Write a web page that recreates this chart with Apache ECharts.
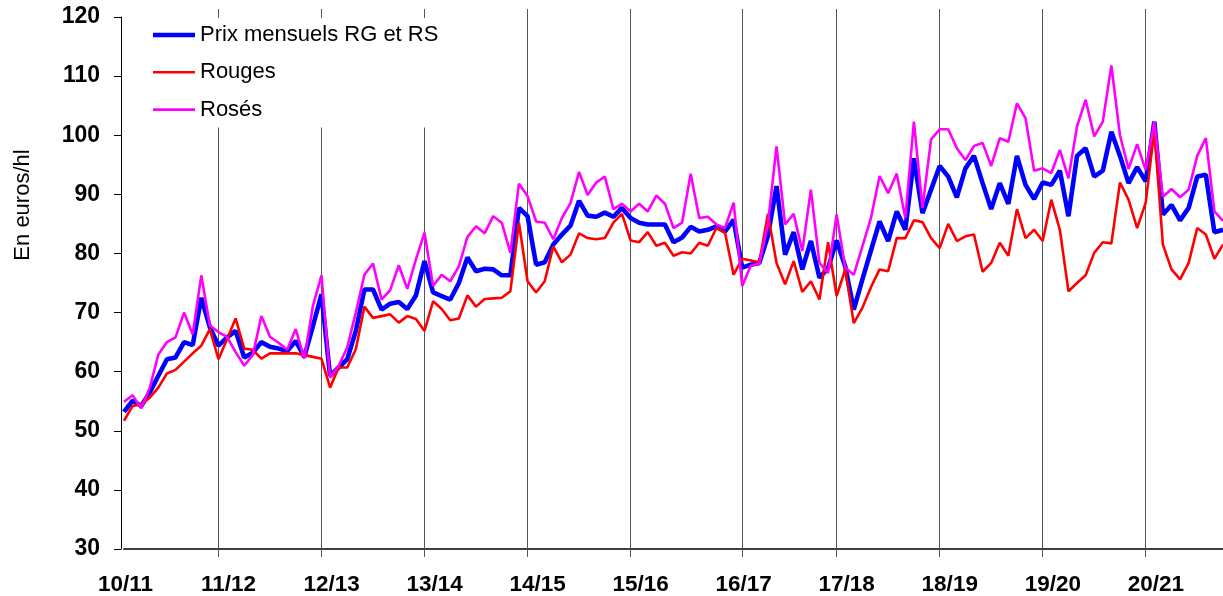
<!DOCTYPE html>
<html>
<head>
<meta charset="utf-8">
<script src="https://cdn.jsdelivr.net/npm/echarts@6/dist/echarts.min.js"></script>
<style>
html, body { margin: 0; padding: 0; background: #fff; }
#chart { width: 1223px; height: 596px; }
</style>
</head>
<body>
<div id="chart"></div>
<script>
// campagnes (une étiquette tous les 12 mois)
var seasons = ['10/11', '11/12', '12/13', '13/14', '14/15', '15/16', '16/17', '17/18', '18/19', '19/20', '20/21'];
// positions des traits verticaux (index du mois)
var seasonLines = [11, 23, 35, 47, 59, 72, 83, 95, 107, 119];

// Prix mensuels RG et RS
var prixRG = [53.2, 55.1, 54.2, 56.5, 59.3, 62.1, 62.4, 65.0, 64.5, 72.5, 67.5, 64.4,
    65.8, 66.9, 62.4, 63.2, 65.0, 64.2, 63.9, 63.5, 65.2, 62.5, 67.7, 73.1,
    59.3, 60.7, 62.1, 66.9, 73.9, 73.9, 70.5, 71.5, 71.8, 70.6, 72.9, 78.7,
    73.4, 72.8, 72.2, 75.0, 79.3, 77.0, 77.4, 77.3, 76.3, 76.3, 87.7, 86.3,
    78.1, 78.5, 81.5, 83.2, 84.7, 88.9, 86.4, 86.2, 86.9, 86.2, 87.7, 86.0,
    85.2, 84.9, 84.9, 84.9, 81.9, 82.7, 84.5, 83.7, 84.0, 84.6, 83.7, 85.7,
    77.6, 78.1, 78.4, 83.0, 91.4, 79.8, 83.6, 77.3, 82.1, 75.9, 77.5, 82.2,
    77.8, 70.5, 75.6, 80.5, 85.4, 82.1, 87.1, 84.0, 96.1, 86.8, 90.8, 94.8,
    93.0, 89.5, 94.4, 96.5, 91.9, 87.5, 91.9, 88.4, 96.5, 91.6, 89.2, 92.0,
    91.6, 94.0, 86.3, 96.5, 97.8, 93.0, 94.0, 100.6, 96.5, 91.9, 94.6, 92.2,
    102.3, 86.6, 88.2, 85.6, 87.7, 93.0, 93.3, 83.6, 84.0];

// Rouges
var rouges = [51.7, 54.2, 54.5, 55.6, 57.3, 59.7, 60.3, 61.7, 63.1, 64.4, 67.2, 62.1,
    65.5, 69.0, 63.9, 63.7, 62.2, 63.1, 63.1, 63.1, 63.1, 62.8, 62.5, 62.2,
    57.3, 60.7, 60.7, 63.8, 71.0, 69.1, 69.4, 69.7, 68.3, 69.4, 68.9, 66.9,
    71.9, 70.6, 68.7, 69.0, 72.9, 71.0, 72.3, 72.4, 72.5, 73.6, 85.2, 75.3,
    73.4, 75.3, 81.2, 78.5, 79.8, 83.4, 82.6, 82.4, 82.6, 85.2, 86.7, 82.2,
    81.9, 83.6, 81.3, 81.8, 79.6, 80.2, 80.0, 81.8, 81.3, 84.3, 83.5, 76.4,
    79.1, 78.8, 78.5, 86.7, 78.4, 74.8, 78.7, 73.5, 75.3, 72.2, 81.9, 72.8,
    77.3, 68.2, 70.8, 74.3, 77.3, 77.0, 82.6, 82.6, 85.6, 85.3, 82.6, 80.9,
    85.0, 82.1, 82.9, 83.2, 76.9, 78.4, 81.8, 79.6, 87.5, 82.6, 84.0, 82.1,
    89.1, 84.0, 73.6, 75.0, 76.3, 80.1, 81.9, 81.7, 92.0, 89.1, 84.3, 88.6,
    100.9, 81.5, 77.3, 75.6, 78.4, 84.3, 83.2, 79.1, 81.5];

// Rosés
var roses = [54.9, 56.0, 53.8, 57.3, 62.9, 65.0, 65.8, 70.0, 66.3, 76.3, 67.8, 66.7,
    65.9, 63.3, 61.0, 62.8, 69.4, 65.9, 64.9, 63.7, 67.2, 62.2, 71.1, 76.3,
    59.0, 61.0, 64.1, 70.0, 76.4, 78.3, 72.2, 73.8, 78.0, 74.0, 79.0, 83.5,
    74.5, 76.4, 75.3, 77.8, 82.8, 84.6, 83.4, 86.3, 85.2, 80.1, 91.8, 89.7,
    85.4, 85.2, 82.4, 86.0, 88.5, 93.8, 89.9, 92.0, 93.0, 87.5, 88.4, 87.1,
    88.4, 87.1, 89.8, 88.4, 84.3, 85.2, 93.5, 86.0, 86.2, 84.9, 84.3, 88.6,
    74.5, 77.9, 78.3, 85.0, 98.1, 84.9, 86.7, 80.4, 90.8, 78.4, 76.7, 86.6,
    77.6, 76.4, 81.2, 86.0, 93.1, 90.2, 93.5, 86.0, 102.3, 87.7, 99.3, 101.0,
    101.0, 97.8, 95.8, 98.2, 98.7, 94.8, 99.5, 98.9, 105.4, 102.9, 94.0, 94.4,
    93.6, 97.5, 92.7, 101.5, 106.0, 99.8, 102.3, 111.8, 100.0, 94.3, 98.5, 94.1,
    102.3, 89.6, 90.9, 89.5, 90.8, 96.5, 99.5, 87.1, 85.5];

// mois (campagne commençant en août 2010)
var months = [];
for (var i = 0; i < prixRG.length; i++) {
    var yy = 2010 + Math.floor((i + 7) / 12), mm = (i + 7) % 12 + 1;
    months.push(yy + '-' + (mm < 10 ? '0' : '') + mm);
}

var font = "'Liberation Sans', Arial, sans-serif";
var isLine = function (index) { return seasonLines.indexOf(index) >= 0; };

var chart = echarts.init(document.getElementById('chart'));
chart.setOption({
    animation: false,
    backgroundColor: '#fff',
    textStyle: { fontFamily: font },
    grid: { left: 124, right: -3.5, top: 17, bottom: 46 },
    legend: {
        orient: 'vertical',
        left: 140,
        top: 18,
        padding: [5, 10, 6, 13],
        backgroundColor: '#fff',
        itemWidth: 42,
        itemHeight: 24,
        itemGap: 13.3,
        itemStyle: { borderWidth: 0 },
        textStyle: { fontSize: 22, color: '#000', lineHeight: 24, fontFamily: font },
        data: [
            { name: 'Prix mensuels RG et RS', icon: 'path://M0,0H42V4.5H0Z' },
            { name: 'Rouges', icon: 'path://M0,0H42V2.6H0Z' },
            { name: 'Rosés', icon: 'path://M0,0H42V2.6H0Z' }
        ]
    },
    graphic: [{
        type: 'text',
        x: 23,
        y: 205,
        rotation: Math.PI / 2,
        style: {
            text: 'En euros/hl',
            fontSize: 22,
            fontFamily: font,
            fill: '#000',
            align: 'center',
            verticalAlign: 'middle'
        }
    }],
    xAxis: [{
        type: 'category',
        data: months,
        boundaryGap: false,
        axisLine: { lineStyle: { color: '#404040', width: 2 } },
        axisTick: { interval: isLine, length: 8, lineStyle: { color: '#555' } },
        axisLabel: {
            interval: function (index) { return index % 12 === 0; },
            formatter: function (value, index) { return seasons[index / 12]; },
            fontSize: 22.5,
            fontWeight: 'bold',
            color: '#000',
            margin: 24,
            padding: [0, 0, 0, 3]
        },
        splitLine: { show: true, interval: isLine, lineStyle: { color: '#555', width: 1 } }
    }, {
        type: 'category',
        data: months,
        position: 'top',
        boundaryGap: false,
        axisLine: { show: false },
        axisTick: { interval: isLine, length: 8, lineStyle: { color: '#555' } },
        axisLabel: { show: false },
        splitLine: { show: false }
    }],
    yAxis: {
        type: 'value',
        min: 30,
        max: 120,
        interval: 10,
        offset: 3,
        axisLine: { show: true, lineStyle: { color: '#000', width: 1 } },
        axisTick: { show: true, length: 7, lineStyle: { color: '#000' } },
        axisLabel: { fontSize: 23, fontWeight: 'bold', color: '#000', margin: 21 },
        splitLine: { show: false }
    },
    series: [{
        name: 'Prix mensuels RG et RS',
        type: 'line',
        data: prixRG,
        symbol: 'none',
        color: '#0000ff',
        lineStyle: { color: '#0000ff', width: 4.6 },
        z: 3
    }, {
        name: 'Rouges',
        type: 'line',
        data: rouges,
        symbol: 'none',
        color: '#ff0000',
        lineStyle: { color: '#ff0000', width: 2.6 },
        z: 3
    }, {
        name: 'Rosés',
        type: 'line',
        data: roses,
        symbol: 'none',
        color: '#ff00ff',
        lineStyle: { color: '#ff00ff', width: 2.6 },
        z: 3
    }]
});
window.onresize = chart.resize;
</script>
</body>
</html>
